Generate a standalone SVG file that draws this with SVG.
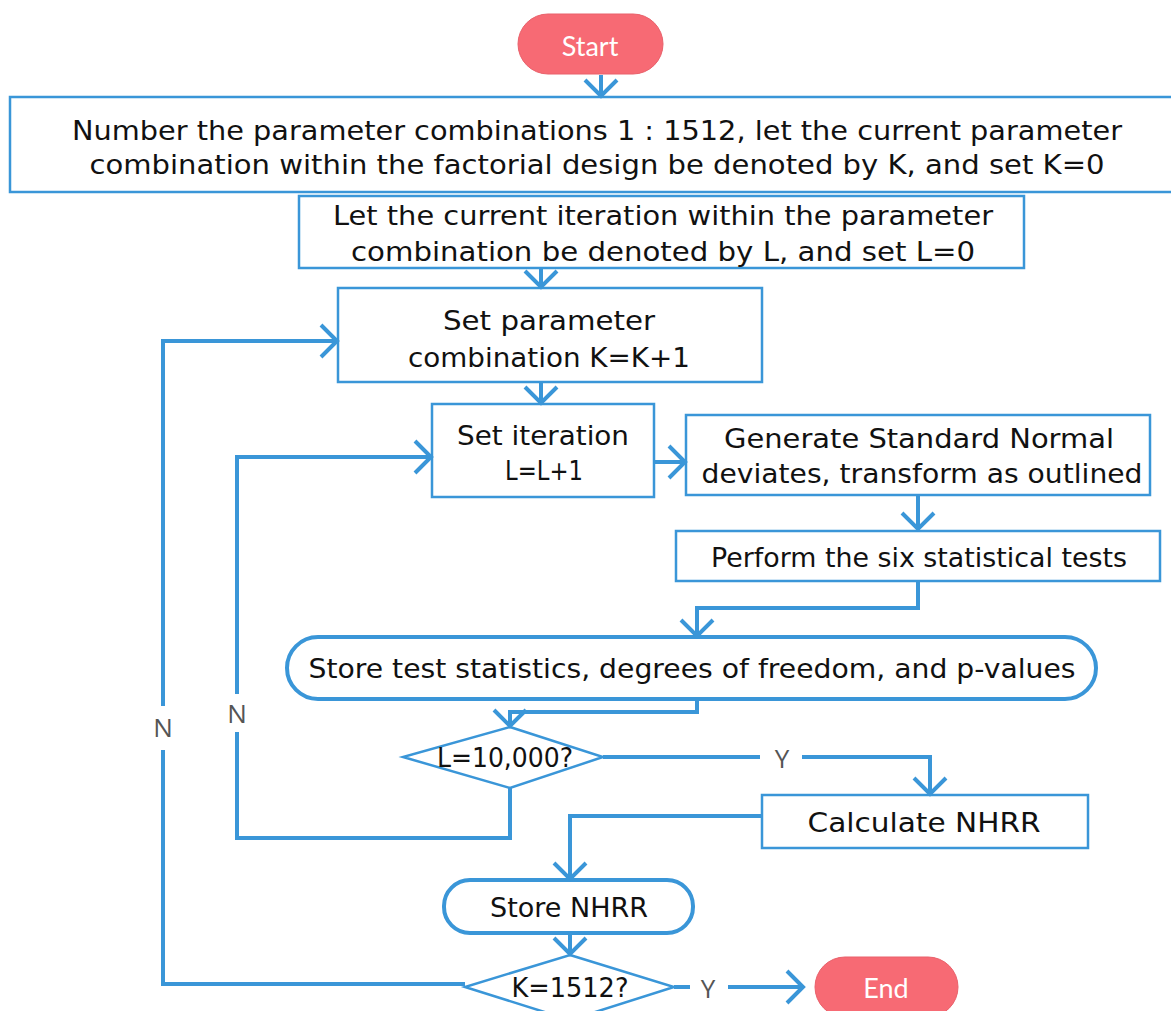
<svg xmlns="http://www.w3.org/2000/svg" width="1171" height="1011" viewBox="0 0 1171 1011">
<style>
.box{fill:#fff;stroke:#3a96d8;stroke-width:2.5}
.rbox{fill:#fff;stroke:#3a96d8;stroke-width:4}
.term{fill:#f76a74;stroke:#e9606a;stroke-width:1}
.t{font-family:"DejaVu Sans",sans-serif;font-size:27px;fill:#111;text-anchor:middle;dominant-baseline:central}
.tw{font-family:Lato,"Open Sans",sans-serif;font-size:27px;fill:#fff;text-anchor:middle;dominant-baseline:central}
.lbl{font-family:"Open Sans","Liberation Sans",sans-serif;font-size:26px;fill:#555;text-anchor:middle;dominant-baseline:central}
.c{fill:none;stroke:#3a96d8;stroke-width:4;stroke-linejoin:miter}
</style>
<g id="start"><rect class="term" x="518" y="14" width="145" height="60" rx="30"/><text class="tw" x="590" y="45">Start</text></g>
<g id="n1"><rect class="box" x="10" y="97" width="1170" height="95"/>
<text class="t" x="597" y="130" textLength="1050" lengthAdjust="spacingAndGlyphs">Number the parameter combinations 1 : 1512, let the current parameter</text>
<text class="t" x="597" y="164" textLength="1015" lengthAdjust="spacingAndGlyphs">combination within the factorial design be denoted by K, and set K=0</text></g>
<g id="n2"><rect class="box" x="299" y="196" width="725" height="72"/>
<text class="t" x="663" y="215" textLength="660" lengthAdjust="spacingAndGlyphs">Let the current iteration within the parameter</text>
<text class="t" x="663" y="251" textLength="624" lengthAdjust="spacingAndGlyphs">combination be denoted by L, and set L=0</text></g>
<g id="n3"><rect class="box" x="338" y="288" width="424" height="94"/>
<text class="t" x="549" y="320" textLength="212" lengthAdjust="spacingAndGlyphs">Set parameter</text>
<text class="t" x="549" y="357" textLength="282" lengthAdjust="spacingAndGlyphs">combination K=K+1</text></g>
<g id="n4"><rect class="box" x="432" y="404" width="222" height="93"/>
<text class="t" x="543" y="435" textLength="172" lengthAdjust="spacingAndGlyphs">Set iteration</text>
<text class="t" x="544" y="470" textLength="78" lengthAdjust="spacingAndGlyphs">L=L+1</text></g>
<g id="n5"><rect class="box" x="686" y="415" width="464" height="80"/>
<text class="t" x="919" y="438" textLength="390" lengthAdjust="spacingAndGlyphs">Generate Standard Normal</text>
<text class="t" x="922" y="473" textLength="441" lengthAdjust="spacingAndGlyphs">deviates, transform as outlined</text></g>
<g id="n6"><rect class="box" x="676" y="531" width="484" height="50"/>
<text class="t" x="919" y="557" textLength="416" lengthAdjust="spacingAndGlyphs">Perform the six statistical tests</text></g>
<g id="n7"><rect class="rbox" x="287" y="637" width="809" height="62" rx="31"/>
<text class="t" x="692" y="668" textLength="767" lengthAdjust="spacingAndGlyphs">Store test statistics, degrees of freedom, and p-values</text></g>
<g id="d1"><polygon class="box" points="510,727 603,757 510,788 403,757"/>
<text class="t" x="505" y="757" textLength="136" lengthAdjust="spacingAndGlyphs">L=10,000?</text></g>
<g id="n8"><rect class="box" x="762" y="795" width="326" height="53"/>
<text class="t" x="924" y="822" textLength="233" lengthAdjust="spacingAndGlyphs">Calculate NHRR</text></g>
<g id="n9"><rect class="rbox" x="444" y="880" width="249" height="53" rx="26"/>
<text class="t" x="569" y="907" textLength="158" lengthAdjust="spacingAndGlyphs">Store NHRR</text></g>
<g id="d2"><polygon class="box" points="570,955 674,987 570,1020 465,987"/>
<text class="t" x="570" y="987" textLength="117" lengthAdjust="spacingAndGlyphs">K=1512?</text></g>
<g id="end"><rect class="term" x="815" y="957" width="143" height="60" rx="30"/><text class="tw" x="886" y="987">End</text></g>
<g id="connectors">
<path class="c" d="M601,75 V96"/><path class="c" d="M585,80 L601,96 L617,80"/>
<path class="c" d="M541,268 V287"/><path class="c" d="M525,271 L541,287 L557,271"/>
<path class="c" d="M541,382 V403"/><path class="c" d="M525,387 L541,403 L557,387"/>
<path class="c" d="M654,462 H685"/><path class="c" d="M669,446 L685,462 L669,478"/>
<path class="c" d="M918,495 V529"/><path class="c" d="M902,513 L918,529 L934,513"/>
<path class="c" d="M918,581 V608 H697 V636"/><path class="c" d="M681,620 L697,636 L713,620"/>
<path class="c" d="M697,700 V712 H510 V726"/><path class="c" d="M494,710 L510,726 L526,710"/>
<path class="c" d="M603,757 H760"/><path class="c" d="M802,757 H930 V794"/><path class="c" d="M914,778 L930,794 L946,778"/>
<text class="lbl" x="782" y="758">Y</text>
<path class="c" d="M762,816 H570 V879"/><path class="c" d="M554,863 L570,879 L586,863"/>
<path class="c" d="M510,788 V838 H237 V732"/><path class="c" d="M237,694 V457 H431"/><path class="c" d="M415,441 L431,457 L415,473"/>
<text class="lbl" x="237" y="713">N</text>
<path class="c" d="M570,933 V954"/><path class="c" d="M554,938 L570,954 L586,938"/>
<path class="c" d="M674,987 H690"/><path class="c" d="M728,987 H803"/><path class="c" d="M787,971 L803,987 L787,1003"/>
<text class="lbl" x="708" y="988">Y</text>
<path class="c" d="M465,984 H163 V750"/><path class="c" d="M163,706 V341 H337"/><path class="c" d="M321,325 L337,341 L321,357"/>
<text class="lbl" x="163" y="727">N</text>
</g>
</svg>
